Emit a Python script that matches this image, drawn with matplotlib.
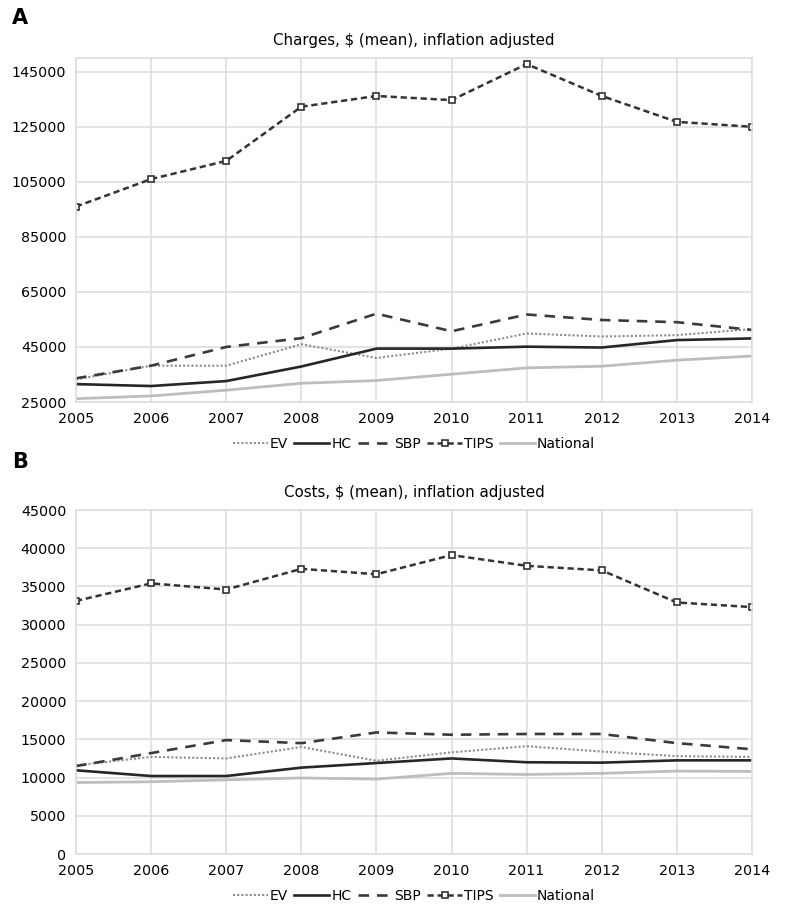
import matplotlib
matplotlib.use("Agg")
import matplotlib.pyplot as plt

years = [2005, 2006, 2007, 2008, 2009, 2010, 2011, 2012, 2013, 2014]
series_names = ["EV", "HC", "SBP", "TIPS", "National"]

charges_ev = [33200, 38200, 38200, 46000, 41000, 44400, 49900, 48800, 49300, 51500]
charges_hc = [31500, 30800, 32600, 37900, 44400, 44400, 45100, 44800, 47500, 48100]
charges_sbp = [33600, 38200, 45000, 48200, 57100, 50700, 56800, 54800, 54000, 51200]
charges_tips = [96000, 106000, 112600, 132300, 136200, 134700, 147800, 136200, 126800, 125000]
charges_nat = [26200, 27200, 29300, 31800, 32800, 35100, 37400, 38000, 40200, 41700]

costs_ev = [11600, 12700, 12500, 14000, 12200, 13300, 14100, 13400, 12800, 12700]
costs_hc = [10950, 10200, 10200, 11300, 11900, 12500, 12000, 11950, 12250, 12250]
costs_sbp = [11500, 13200, 14900, 14500, 15900, 15600, 15700, 15700, 14500, 13700]
costs_tips = [33100, 35400, 34600, 37300, 36600, 39100, 37700, 37100, 32900, 32300]
costs_nat = [9350, 9450, 9700, 9950, 9800, 10550, 10400, 10550, 10850, 10800]

plt.rcParams['font.family'] = ['DejaVu Sans']

fig = plt.figure(figsize=(7.87, 9.08), dpi=100)
W, H = 787, 908

def axes_px(l, t, r, b):
    return fig.add_axes([l / W, 1 - b / H, (r - l) / W, (b - t) / H])

styles = {
    "EV": dict(color="#8c8c8c", lw=1.5, ls=(0, (1, 1))),
    "HC": dict(color="#262626", lw=1.9, ls="-"),
    "SBP": dict(color="#3a3a3a", lw=1.9, ls=(0, (4, 3))),
    "TIPS": dict(color="#333333", lw=1.8, ls=(0, (2.5, 1.5)), marker="s", ms=5,
                 mfc="white", mec="#333333", mew=1.2),
    "National": dict(color="#bdbdbd", lw=2.0, ls="-"),
}

def draw(ax, data, ylim, yticks, title):
    for name, vals in zip(series_names, data):
        ax.plot(years, vals, label=name, **styles[name])
    ax.set_xlim(years[0], years[-1])
    ax.set_ylim(*ylim)
    ax.set_xticks(years)
    ax.set_yticks(yticks)
    ax.grid(True, color="#dedede", lw=1.2)
    ax.set_axisbelow(True)
    for s in ax.spines.values():
        s.set_color("#dedede")
        s.set_linewidth(1.2)
    ax.tick_params(axis="y", length=0, labelsize=10.3, pad=7)
    ax.tick_params(axis="x", length=0, labelsize=10.3, pad=7)
    ax.set_title(title, fontsize=10.8, pad=9)
    ax.legend(loc="upper center", bbox_to_anchor=(0.5, -0.065), ncol=5,
              frameon=False, fontsize=10, handlelength=2.5,
              columnspacing=0.45, handletextpad=0.15)

axA = axes_px(76, 58, 752, 402)
draw(axA, [charges_ev, charges_hc, charges_sbp, charges_tips, charges_nat],
     (25000, 150000), list(range(25000, 150001, 20000)),
     "Charges, $ (mean), inflation adjusted")

axB = axes_px(76, 510, 752, 854)
draw(axB, [costs_ev, costs_hc, costs_sbp, costs_tips, costs_nat],
     (0, 45000), list(range(0, 45001, 5000)),
     "Costs, $ (mean), inflation adjusted")

fig.text(12 / W, 1 - 18 / H, "A", fontsize=15, fontweight="bold", va="center", ha="left")
fig.text(12 / W, 1 - 462 / H, "B", fontsize=15, fontweight="bold", va="center", ha="left")

fig.savefig("out.png", dpi=100)
